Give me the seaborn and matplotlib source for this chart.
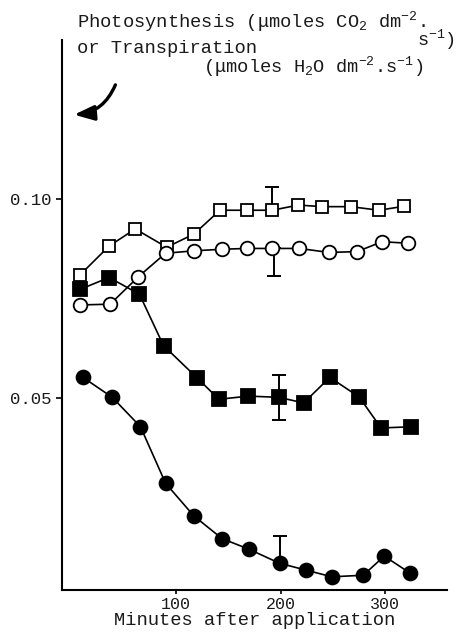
import numpy as np
import pandas as pd
import matplotlib
matplotlib.use('Agg')
import matplotlib.pyplot as plt
import seaborn as sns

# minutes after application, one list per series
t_open_sq = [8, 36, 61, 91, 117, 142, 168, 192, 217, 240, 267, 294, 318]
v_open_sq = [0.0809, 0.0882, 0.0925, 0.0879, 0.0912, 0.0972, 0.0972, 0.0972,
             0.0985, 0.0981, 0.0981, 0.0972, 0.0982]

t_open_ci = [8, 37, 64, 90, 117, 144, 168, 192, 218, 246, 273, 297, 322]
v_open_ci = [0.0734, 0.0736, 0.0805, 0.0864, 0.0870, 0.0874, 0.0876, 0.0876,
             0.0876, 0.0866, 0.0868, 0.0893, 0.0889]

t_fill_sq = [8, 36, 65, 88, 120, 141, 169, 198, 222, 247, 275, 296, 325]
v_fill_sq = [0.0773, 0.0803, 0.0761, 0.0632, 0.0551, 0.0497, 0.0505, 0.0502,
             0.0488, 0.0552, 0.0503, 0.0425, 0.0428]

t_fill_ci = [11, 39, 66, 90, 117, 144, 170, 199, 224, 249, 279, 299, 324]
v_fill_ci = [0.0552, 0.0502, 0.0428, 0.0286, 0.0204, 0.0147, 0.0120, 0.0085,
             0.0068, 0.0051, 0.0055, 0.0103, 0.0060]

# error bars: (time, value, lower end, upper end)
err_open_sq = (192, 0.0972, 0.0972, 0.1031)
err_open_ci = (194, 0.0876, 0.0807, 0.0876)
err_fill_sq = (198, 0.0502, 0.0445, 0.0558)
err_fill_ci = (199, 0.0085, 0.0085, 0.0154)

sns.set_style('ticks')
plt.rcParams['font.family'] = ['Liberation Mono', 'DejaVu Sans Mono']
plt.rcParams['mathtext.fontset'] = 'custom'
plt.rcParams['mathtext.rm'] = 'Liberation Mono'
plt.rcParams['mathtext.it'] = 'Liberation Mono'

fig = plt.figure(figsize=(4.70, 6.33), dpi=100)
ax = fig.add_axes([0.132, 0.068, 0.819, 0.869])

df = pd.concat([
    pd.DataFrame({'t': t_open_sq, 'v': v_open_sq, 'series': 'open_sq'}),
    pd.DataFrame({'t': t_open_ci, 'v': v_open_ci, 'series': 'open_ci'}),
    pd.DataFrame({'t': t_fill_sq, 'v': v_fill_sq, 'series': 'fill_sq'}),
    pd.DataFrame({'t': t_fill_ci, 'v': v_fill_ci, 'series': 'fill_ci'}),
])

styles = {
    'open_sq': dict(marker='s', markersize=9.0, markerfacecolor='white'),
    'open_ci': dict(marker='o', markersize=9.8, markerfacecolor='white'),
    'fill_sq': dict(marker='s', markersize=9.6, markerfacecolor='black'),
    'fill_ci': dict(marker='o', markersize=10.0, markerfacecolor='black'),
}

# error bars first so markers sit on top
for t, v, lo, hi in [err_open_sq, err_open_ci, err_fill_sq, err_fill_ci]:
    ax.errorbar([t], [v], yerr=[[v - lo], [hi - v]], fmt='none', ecolor='black',
                elinewidth=1.4, capsize=5, capthick=1.4, zorder=2)

for name, st in styles.items():
    sub = df[df['series'] == name]
    sns.lineplot(data=sub, x='t', y='v', ax=ax, color='black', linewidth=1.2,
                 markeredgecolor='black', markeredgewidth=1.3, zorder=3, **st)

ax.set_xlim(-9, 359)
ax.set_ylim(0.0018, 0.14)
ax.set_xticks([100, 200, 300])
ax.set_yticks([0.05, 0.10])
ax.set_yticklabels(['0.05', '0.10'])
ax.tick_params(labelsize=12.5, length=4, width=1.2, color='black', labelcolor='#1a1a1a')
ax.tick_params(axis='x', length=3, pad=2, labelsize=12)
ax.set_xlabel('Minutes after application', fontsize=13.5, labelpad=0, color='#1a1a1a')
ax.set_ylabel('')
sns.despine(ax=ax)
for s in ['left', 'bottom']:
    ax.spines[s].set_linewidth(1.5)
    ax.spines[s].set_color('black')

# curved arrow marking the application
ax.annotate('', xy=(2.5, 0.1212), xytext=(42, 0.1287),
            arrowprops=dict(arrowstyle='-|>,head_length=1.2,head_width=0.45',
                            connectionstyle='arc3,rad=-0.3', color='black',
                            linewidth=2.4, shrinkA=0, shrinkB=0))

# y-axis title written above the plot
tc = '#1a1a1a'
fig.text(0.164, 0.956, r'Photosynthesis ($\mu$moles CO$_2$ dm$^{-2}$.',
         fontsize=13.5, color=tc, va='baseline')
fig.text(0.164, 0.916, 'or Transpiration', fontsize=13.5, color=tc, va='baseline')
fig.text(0.968, 0.929, r's$^{-1}$)', fontsize=13.5, color=tc, va='baseline', ha='right')
fig.text(0.432, 0.885, r'($\mu$moles H$_2$O dm$^{-2}$.s$^{-1}$)',
         fontsize=13.5, color=tc, va='baseline')

fig.savefig('out.png', dpi=100, facecolor='white')
